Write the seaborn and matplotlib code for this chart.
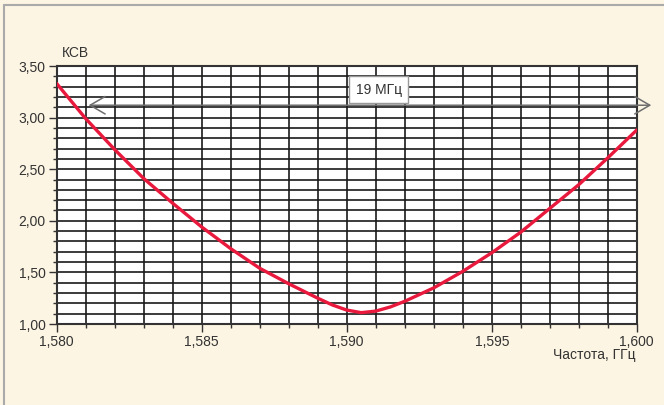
import matplotlib
matplotlib.use("Agg")
import matplotlib.pyplot as plt
import matplotlib.ticker as mticker
from matplotlib.lines import Line2D
import seaborn as sns
import pandas as pd

freq = [1.580, 1.581, 1.582, 1.583, 1.584, 1.585, 1.586, 1.587, 1.588, 1.589,
        1.5895, 1.590, 1.5905, 1.591, 1.5915, 1.592, 1.593, 1.594, 1.595, 1.596,
        1.597, 1.598, 1.599, 1.600]
vswr = [3.33, 2.99, 2.69, 2.41, 2.17, 1.94, 1.73, 1.54, 1.39, 1.25,
        1.185, 1.135, 1.11, 1.125, 1.165, 1.22, 1.35, 1.51, 1.69, 1.89,
        2.12, 2.35, 2.61, 2.88]
x_ticks = [1.580, 1.585, 1.590, 1.595, 1.600]
y_ticks = [1.00, 1.50, 2.00, 2.50, 3.00, 3.50]
band_start, band_end, band_y = 1.5811, 1.6005, 3.12
band_label = "19 МГц"
y_title = "КСВ"
x_title = "Частота, ГГц"

sns.set_theme(style="white")
plt.rcParams['font.family'] = ['Liberation Sans Narrow', 'Liberation Sans', 'DejaVu Sans']

bg = "#fdf5e3"
fig = plt.figure(figsize=(6.64, 4.05), dpi=100, facecolor=bg)
ax = fig.add_axes([0.0854, 0.2, 0.959 - 0.0854, 0.837 - 0.2])
ax.set_facecolor("white")

df = pd.DataFrame({"f": freq, "v": vswr})
sns.lineplot(data=df, x="f", y="v", ax=ax, color="#e8193c", lw=2.4, zorder=5)

ax.set_xlim(1.580, 1.600)
ax.set_ylim(1.0, 3.5)
ax.xaxis.set_major_locator(mticker.FixedLocator(x_ticks))
ax.yaxis.set_major_locator(mticker.FixedLocator(y_ticks))
ax.xaxis.set_minor_locator(mticker.MultipleLocator(0.001))
ax.yaxis.set_minor_locator(mticker.MultipleLocator(0.1))
ax.xaxis.set_major_formatter(mticker.FuncFormatter(lambda v, p: f"{v:.3f}".replace(".", ",")))
ax.yaxis.set_major_formatter(mticker.FuncFormatter(lambda v, p: f"{v:.2f}".replace(".", ",")))
ax.grid(which="both", color="#1a1a1a", lw=1.2)
ax.set_axisbelow(True)
ax.tick_params(which="major", direction="out", length=6, width=1, color="#333333",
               labelsize=10, labelcolor="#333333", pad=2, bottom=True, left=True)
ax.tick_params(which="minor", direction="out", length=3, width=1, color="#333333",
               bottom=True, left=True)
for s in ax.spines.values():
    s.set_color("#333333")
    s.set_linewidth(1.5)
ax.set_xlabel("")
ax.set_ylabel("")

ax.annotate("", xy=(band_start, band_y), xytext=(band_end, band_y),
            arrowprops=dict(arrowstyle="<->,head_length=0.6,head_width=0.35", color="#6e6e6e", lw=1.1,
                            shrinkA=0, shrinkB=0, mutation_scale=18),
            annotation_clip=False, zorder=6)
ax.text(1.5911, 3.27, band_label, ha="center", va="center", fontsize=10, color="#333333",
        bbox=dict(boxstyle="square,pad=0.45", fc="white", ec="#999999", lw=1), zorder=7)

fig.text(62 / 664, 1 - 53 / 405, y_title, ha="left", va="center", fontsize=10, color="#333333")
fig.text(636 / 664, 1 - 355 / 405, x_title, ha="right", va="center", fontsize=10, color="#333333")

fig.add_artist(Line2D([4 / 664, 1], [1 - 5 / 405, 1 - 5 / 405], color="#aaaaaa", lw=1.5))
fig.add_artist(Line2D([4 / 664, 4 / 664], [0, 1 - 5 / 405], color="#aaaaaa", lw=1.5))

fig.savefig("out.png", dpi=100, facecolor=bg)
